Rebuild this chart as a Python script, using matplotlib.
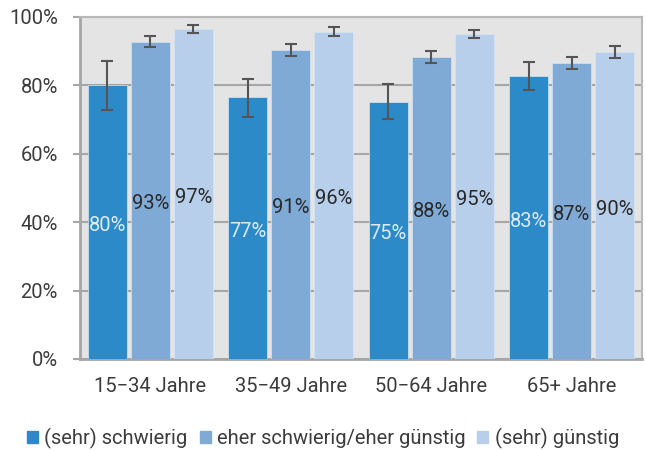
import matplotlib
matplotlib.use("Agg")
import matplotlib.pyplot as plt
import numpy as np

categories = ["15\u221234 Jahre", "35\u221249 Jahre", "50\u221264 Jahre", "65+ Jahre"]
series_names = ["(sehr) schwierig", "eher schwierig/eher günstig", "(sehr) günstig"]
values = [
    [80.0, 76.5, 75.2, 82.7],
    [92.7, 90.4, 88.2, 86.5],
    [96.4, 95.6, 95.0, 89.7],
]
labels = [
    ["80%", "77%", "75%", "83%"],
    ["93%", "91%", "88%", "87%"],
    ["97%", "96%", "95%", "90%"],
]
err_low = [
    [72.8, 70.8, 70.2, 78.7],
    [91.3, 88.7, 86.5, 84.9],
    [95.3, 94.4, 93.9, 88.1],
]
err_high = [
    [87.0, 82.0, 80.3, 86.9],
    [94.3, 92.2, 90.0, 88.3],
    [97.7, 97.1, 96.2, 91.4],
]
yticks = [0, 20, 40, 60, 80, 100]
ytick_labels = ["0%", "20%", "40%", "60%", "80%", "100%"]

colors = ["#2B8AC7", "#80AAD6", "#B8CFEB"]
label_colors = ["#DDEBF7", "#2A2A2A", "#2A2A2A"]

plt.rcParams['font.family'] = ['Roboto', 'DejaVu Sans']
FW = 'normal'
FS = 14.5

fig = plt.figure(figsize=(6.46, 4.51), dpi=100)
ax = fig.add_axes([80/646, 92/451, 562/646, 342/451])
ax.set_facecolor("#E4E4E4")

x = np.arange(len(categories))
w = 0.278
step = 0.306
for i in range(3):
    xs = x + (i - 1) * step
    ax.bar(xs, values[i], width=w, color=colors[i], edgecolor="#D6E4F2", linewidth=0.5, zorder=3)
    v = np.array(values[i])
    lo = v - np.array(err_low[i])
    hi = np.array(err_high[i]) - v
    ax.errorbar(xs, v, yerr=[lo, hi], fmt='none', ecolor="#555555", elinewidth=1.5,
                capsize=4.3, capthick=1.5, zorder=4)
    for j, xx in enumerate(xs):
        ax.text(xx, values[i][j] / 2 - 1, labels[i][j], ha='center', va='center',
                fontsize=FS, color=label_colors[i], zorder=5, fontweight=FW)

ax.set_xlim(-0.5, len(categories) - 0.5)
ax.set_ylim(0, 100)
ax.set_yticks(yticks)
ax.set_yticklabels(ytick_labels, fontweight=FW)
ax.set_xticks(x)
ax.set_xticklabels(categories, fontweight=FW)
ax.tick_params(axis='y', length=5, width=1.5, color="#A6A6A6", pad=11, labelsize=FS, labelcolor="#3C3C3C")
ax.tick_params(axis='x', length=0, pad=13, labelsize=FS, labelcolor="#3C3C3C")
ax.yaxis.grid(True, color="#A6A6A6", linewidth=1.5, zorder=1)
ax.set_axisbelow(True)
for s in ["left", "bottom"]:
    ax.spines[s].set_color("#A6A6A6")
    ax.spines[s].set_linewidth(2)
for s in ["top", "right"]:
    ax.spines[s].set_color("#B8B8B8")
    ax.spines[s].set_linewidth(1.5)

handles = [plt.Rectangle((0, 0), 1, 1, color=c) for c in colors]
fig.legend(handles, series_names, loc='center', bbox_to_anchor=(0.5, 1 - 438/451), ncol=3,
           frameon=False, prop={'size': FS, 'weight': FW}, handlelength=0.55, handleheight=0.55,
           handletextpad=0.3, columnspacing=0.6, labelcolor="#3C3C3C")

fig.savefig("out.png", dpi=100)
